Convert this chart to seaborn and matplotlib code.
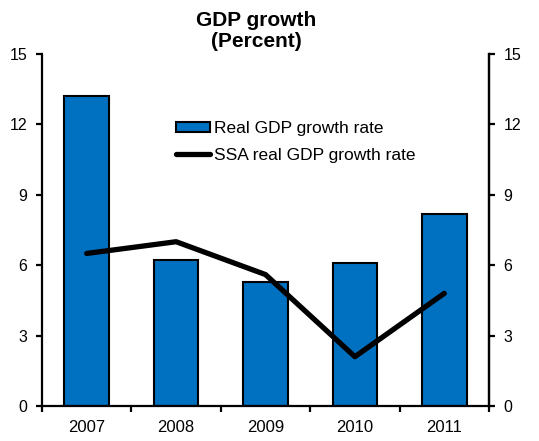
import matplotlib
matplotlib.use("Agg")
import matplotlib.pyplot as plt
import seaborn as sns
import pandas as pd
from matplotlib.lines import Line2D
from matplotlib.patches import Patch

years = ["2007", "2008", "2009", "2010", "2011"]
real_gdp_growth = [13.2, 6.2, 5.3, 6.1, 8.2]
ssa_gdp_growth = [6.5, 7.0, 5.6, 2.1, 4.8]
y_ticks = [0, 3, 6, 9, 12, 15]

df = pd.DataFrame({"year": years, "real": real_gdp_growth, "ssa": ssa_gdp_growth})

sns.set_style("white")
plt.rcParams["font.family"] = ["Liberation Sans", "DejaVu Sans"]
plt.rcParams["text.color"] = "black"
plt.rcParams["xtick.color"] = "black"
plt.rcParams["ytick.color"] = "black"

bar_color = "#0070C0"

fig = plt.figure(figsize=(5.39, 4.41), dpi=100)
ax = fig.add_axes([0.078, 0.0794, 0.8292, 0.7982])

sns.barplot(data=df, x="year", y="real", color=bar_color, width=0.5,
            edgecolor="black", linewidth=1.5, saturation=1, ax=ax)
sns.pointplot(data=df, x="year", y="ssa", color="black", marker="",
              linestyle="-", lw=3.8, ax=ax)

ax.set_ylim(0, 15)
ax.set_xlim(-0.5, len(years) - 0.5)
ax.set_yticks(y_ticks)
ax.set_xlabel("")
ax.set_ylabel("")

for side in ["left", "right", "bottom"]:
    ax.spines[side].set_visible(True)
    ax.spines[side].set_color("black")
    ax.spines[side].set_linewidth(1.6)
ax.spines["top"].set_visible(False)

# category labels centred, tick marks on category boundaries
ax.tick_params(axis="x", which="major", length=0, labelsize=12, pad=10,
               labelcolor="black")
ax.set_xticks([i - 0.5 for i in range(len(years) + 1)], minor=True)
ax.tick_params(axis="x", which="minor", length=4.5, width=1.6, color="black",
               direction="out", bottom=True)
ax.tick_params(axis="y", which="major", length=4.5, width=1.6, color="black",
               direction="out", left=True, labelsize=11.5, pad=6,
               labelcolor="black")

ax2 = ax.twinx()
ax2.set_ylim(0, 15)
ax2.set_yticks(y_ticks)
for side in ["left", "top", "bottom"]:
    ax2.spines[side].set_visible(False)
ax2.spines["right"].set_visible(True)
ax2.spines["right"].set_color("black")
ax2.spines["right"].set_linewidth(1.6)
ax2.tick_params(axis="y", length=4.5, width=1.6, color="black", direction="out",
                right=True, labelsize=11.5, pad=6, labelcolor="black")
ax2.grid(False)
ax.grid(False)

handles = [
    Patch(facecolor=bar_color, edgecolor="black", linewidth=1.5),
    Line2D([0], [0], color="black", lw=3.8),
]
leg = ax.legend(handles, ["Real GDP growth rate", "SSA real GDP growth rate"],
                loc="upper left", bbox_to_anchor=(0.285, 0.83), frameon=False,
                fontsize=12.5, handlelength=1.95, handleheight=0.5,
                handletextpad=0.2, labelspacing=0.68, borderaxespad=0)
for t in leg.get_texts():
    t.set_color("black")

fig.text(0.475, 0.974, "GDP growth\n(Percent)", ha="center", va="top",
         fontsize=15, fontweight="bold", linespacing=1.1, color="black")

fig.savefig("out.png", dpi=100)
